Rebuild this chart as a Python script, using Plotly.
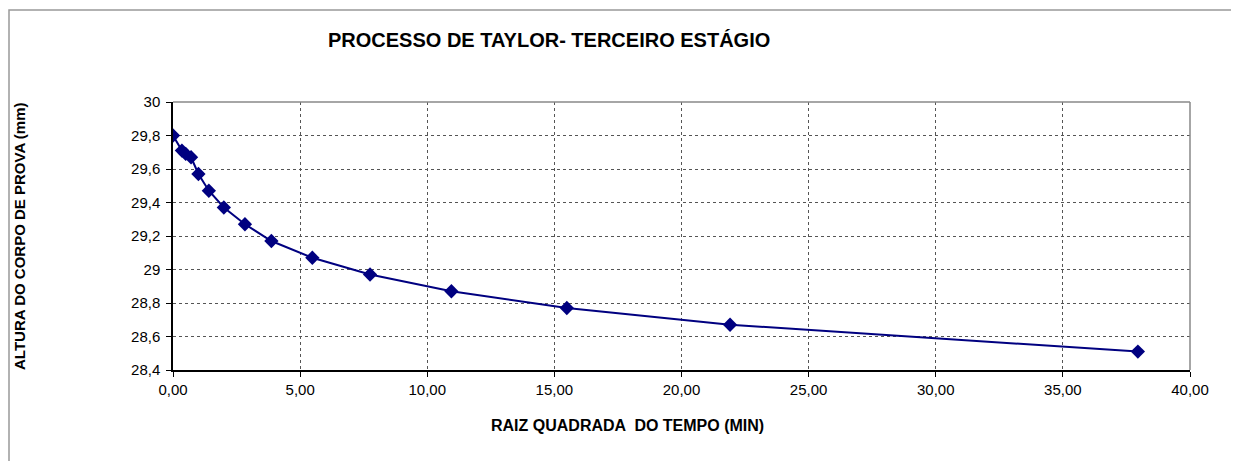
import plotly.graph_objects as go

# Data
sqrt_time = [0.00, 0.35, 0.50, 0.71, 1.00, 1.41, 2.00, 2.83, 3.87, 5.48, 7.75, 10.95, 15.49, 21.91, 37.95]
height_mm = [29.80, 29.71, 29.69, 29.67, 29.57, 29.47, 29.37, 29.27, 29.17, 29.07, 28.97, 28.87, 28.77, 28.67, 28.51]

x_ticks = [0, 5, 10, 15, 20, 25, 30, 35, 40]
y_ticks = [28.4, 28.6, 28.8, 29.0, 29.2, 29.4, 29.6, 29.8, 30.0]
y_tick_labels = ["28,4", "28,6", "28,8", "29", "29,2", "29,4", "29,6", "29,8", "30"]

title_text = "PROCESSO DE TAYLOR- TERCEIRO ESTÁGIO"
x_title = "RAIZ QUADRADA  DO TEMPO (MIN)"
y_title = "ALTURA DO CORPO DE PROVA (mm)"

FONT = "Arial, Liberation Sans, sans-serif"
OFF = 8  # page body margin
W, H = 1231, 453
# target page-pixel plot area: x 173..1190, y 102..370
L, T = 173 - OFF, 102 - OFF
pw, ph = 1017, 268
R, B = W - L - pw, H - T - ph

def px_to_paper(px, py):
    fx, fy = px - OFF, py - OFF
    return (fx - L) / pw, (T + ph - fy) / ph

fig = go.Figure()
fig.add_trace(go.Scatter(
    x=sqrt_time, y=height_mm, mode="lines+markers",
    line=dict(color="#000080", width=2),
    marker=dict(symbol="diamond", size=11, color="#000080"),
    showlegend=False,
))

tx, ty = px_to_paper(549, 40)
xtx, xty = px_to_paper(627.5, 425)
ytx, yty = px_to_paper(19, 236)

fig.update_layout(
    width=W, height=H,
    margin=dict(l=L, r=R, t=T, b=B),
    paper_bgcolor="white", plot_bgcolor="white",
    separators=",.",
    font=dict(family=FONT, color="black", size=14),
    xaxis=dict(
        range=[0, 40], tickvals=x_ticks, tickformat=".2f",
        showgrid=True, gridcolor="#555555", griddash="dot", gridwidth=1,
        showline=True, linecolor="black", linewidth=1.5,
        ticks="outside", ticklen=5, tickcolor="black",
        tickfont=dict(size=15), zeroline=False,
    ),
    yaxis=dict(
        range=[28.4, 30.0], tickvals=y_ticks, ticktext=y_tick_labels,
        showgrid=True, gridcolor="#555555", griddash="dot", gridwidth=1,
        showline=True, linecolor="black", linewidth=1.5,
        ticks="outside", ticklen=5, tickcolor="black", ticklabelstandoff=3,
        tickfont=dict(size=15), zeroline=False,
    ),
    annotations=[
        dict(text=f"<b>{title_text}</b>", x=tx, y=ty, xref="paper", yref="paper",
             showarrow=False, xanchor="center", yanchor="middle", font=dict(size=20)),
        dict(text=f"<b>{x_title}</b>", x=xtx, y=xty, xref="paper", yref="paper",
             showarrow=False, xanchor="center", yanchor="middle", font=dict(size=16)),
        dict(text=f"<b>{y_title}</b>", x=ytx, y=yty, xref="paper", yref="paper",
             showarrow=False, xanchor="center", yanchor="middle", textangle=-90, font=dict(size=15)),
    ],
)

# plot-area top and right borders (gray)
fig.add_shape(type="line", xref="paper", yref="paper", x0=0, x1=1, y0=1, y1=1,
              line=dict(color="#888888", width=1.5))
fig.add_shape(type="line", xref="paper", yref="paper", x0=1, x1=1, y0=0, y1=1,
              line=dict(color="#888888", width=1.5))
# outer chart border (top and left visible)
bx0 = (1 - L) / pw
by0 = (T + ph - 2) / ph
fig.add_shape(type="rect", xref="paper", yref="paper", x0=bx0, y0=-0.6, x1=1.3, y1=by0,
              line=dict(color="#999999", width=1.5), layer="below")

fig.write_html("out.html")
